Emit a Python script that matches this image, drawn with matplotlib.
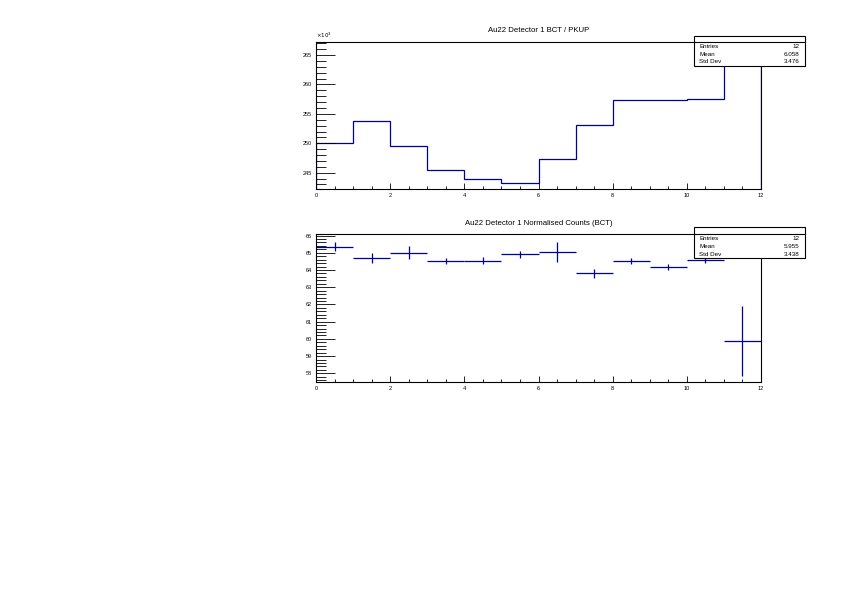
import numpy as np
import matplotlib
matplotlib.use("Agg")
import matplotlib.pyplot as plt
from matplotlib.ticker import MultipleLocator
from matplotlib.patches import Rectangle

# bin edges and contents
bin_edges = np.arange(0, 13, 1)
bct_pkup = [250.0, 253.85, 249.6, 245.4, 244.0, 243.2, 247.3, 253.1, 257.4, 257.35, 257.5, 265.7]  # x10^3

bin_centres = np.arange(0.5, 12, 1)
norm_counts = [65.35, 64.71, 65.0, 64.52, 64.54, 64.9, 65.06, 63.8, 64.5, 64.17, 64.58, 59.89]
norm_errors = [0.27, 0.29, 0.39, 0.17, 0.19, 0.21, 0.58, 0.24, 0.17, 0.16, 0.17, 2.03]

top_stats = [("Entries", "12"), ("Mean", "6.058"), ("Std Dev", "3.476")]
bot_stats = [("Entries", "12"), ("Mean", "5.955"), ("Std Dev", "3.438")]

plt.rcParams['font.family'] = ['Liberation Sans', 'DejaVu Sans']
line_col = '#000099'

fig = plt.figure(figsize=(8.42, 5.95), dpi=100)


def style_axes(ax, ymajor, yminor):
    ax.set_xlim(0, 12)
    ax.xaxis.set_major_locator(MultipleLocator(2))
    ax.xaxis.set_minor_locator(MultipleLocator(0.5))
    ax.yaxis.set_major_locator(MultipleLocator(ymajor))
    ax.yaxis.set_minor_locator(MultipleLocator(yminor))
    ax.tick_params(axis='both', which='both', direction='in', labelsize=4, pad=3)
    ax.tick_params(axis='x', which='major', length=4, width=0.6)
    ax.tick_params(axis='x', which='minor', length=2, width=0.6)
    ax.tick_params(axis='y', which='major', length=14, width=0.6)
    ax.tick_params(axis='y', which='minor', length=7, width=0.6)
    for s in ax.spines.values():
        s.set_linewidth(0.8)


def stat_box(y_top, y_bot, y_sep, rows):
    # stats box drawn in figure pixel coords (ROOT style)
    x0, x1 = 694 / 842, 805 / 842
    yt, yb = 1 - y_top / 595, 1 - y_bot / 595
    fig.patches.append(Rectangle((x0 + 0.0012, yb - 0.0017), x1 - x0, yt - yb, transform=fig.transFigure,
                                 facecolor='black', edgecolor='none', zorder=9))
    fig.patches.append(Rectangle((x0, yb), x1 - x0, yt - yb, transform=fig.transFigure,
                                 facecolor='white', edgecolor='black', linewidth=0.8, zorder=10))
    ys = 1 - y_sep / 595
    fig.add_artist(plt.Line2D([x0, x1], [ys, ys], transform=fig.transFigure, color='black', linewidth=0.8, zorder=11))
    step = (yb - ys) / len(rows)
    for i, (name, val) in enumerate(rows):
        yy = ys + step * (i + 0.5)
        fig.text(x0 + 0.006, yy, name, fontsize=4.5, va='center', ha='left', zorder=12)
        fig.text(x1 - 0.007, yy, val, fontsize=4.5, va='center', ha='right', zorder=12)


# top panel: histogram
ax1 = fig.add_axes([316 / 842, 1 - 189.3 / 595, 445 / 842, 147.6 / 595])
ax1.stairs(bct_pkup, bin_edges, color=line_col, linewidth=0.9)
ax1.set_ylim(242.18, 267.26)
style_axes(ax1, 5, 1)
ax1.text(0, 1.01, r'$\times10^{3}$', transform=ax1.transAxes, fontsize=4, ha='left', va='bottom')
fig.text(538.5 / 842, 1 - 30.5 / 595, "Au22 Detector 1 BCT / PKUP", fontsize=5.6, ha='center', va='center')
stat_box(35.7, 65.7, 42.3, top_stats)

# bottom panel: normalised counts with errors
ax2 = fig.add_axes([316 / 842, 1 - 382.3 / 595, 445 / 842, 148 / 595])
ax2.errorbar(bin_centres, norm_counts, xerr=0.5, yerr=norm_errors, fmt='none', ecolor=line_col,
             elinewidth=0.9, capsize=0)
ax2.set_ylim(57.48, 66.07)
style_axes(ax2, 1, 0.2)
fig.text(538.5 / 842, 1 - 223.5 / 595, "Au22 Detector 1 Normalised Counts (BCT)", fontsize=5.6, ha='center', va='center')
stat_box(227.3, 258.3, 234.3, bot_stats)

fig.savefig("out.png", dpi=100)
